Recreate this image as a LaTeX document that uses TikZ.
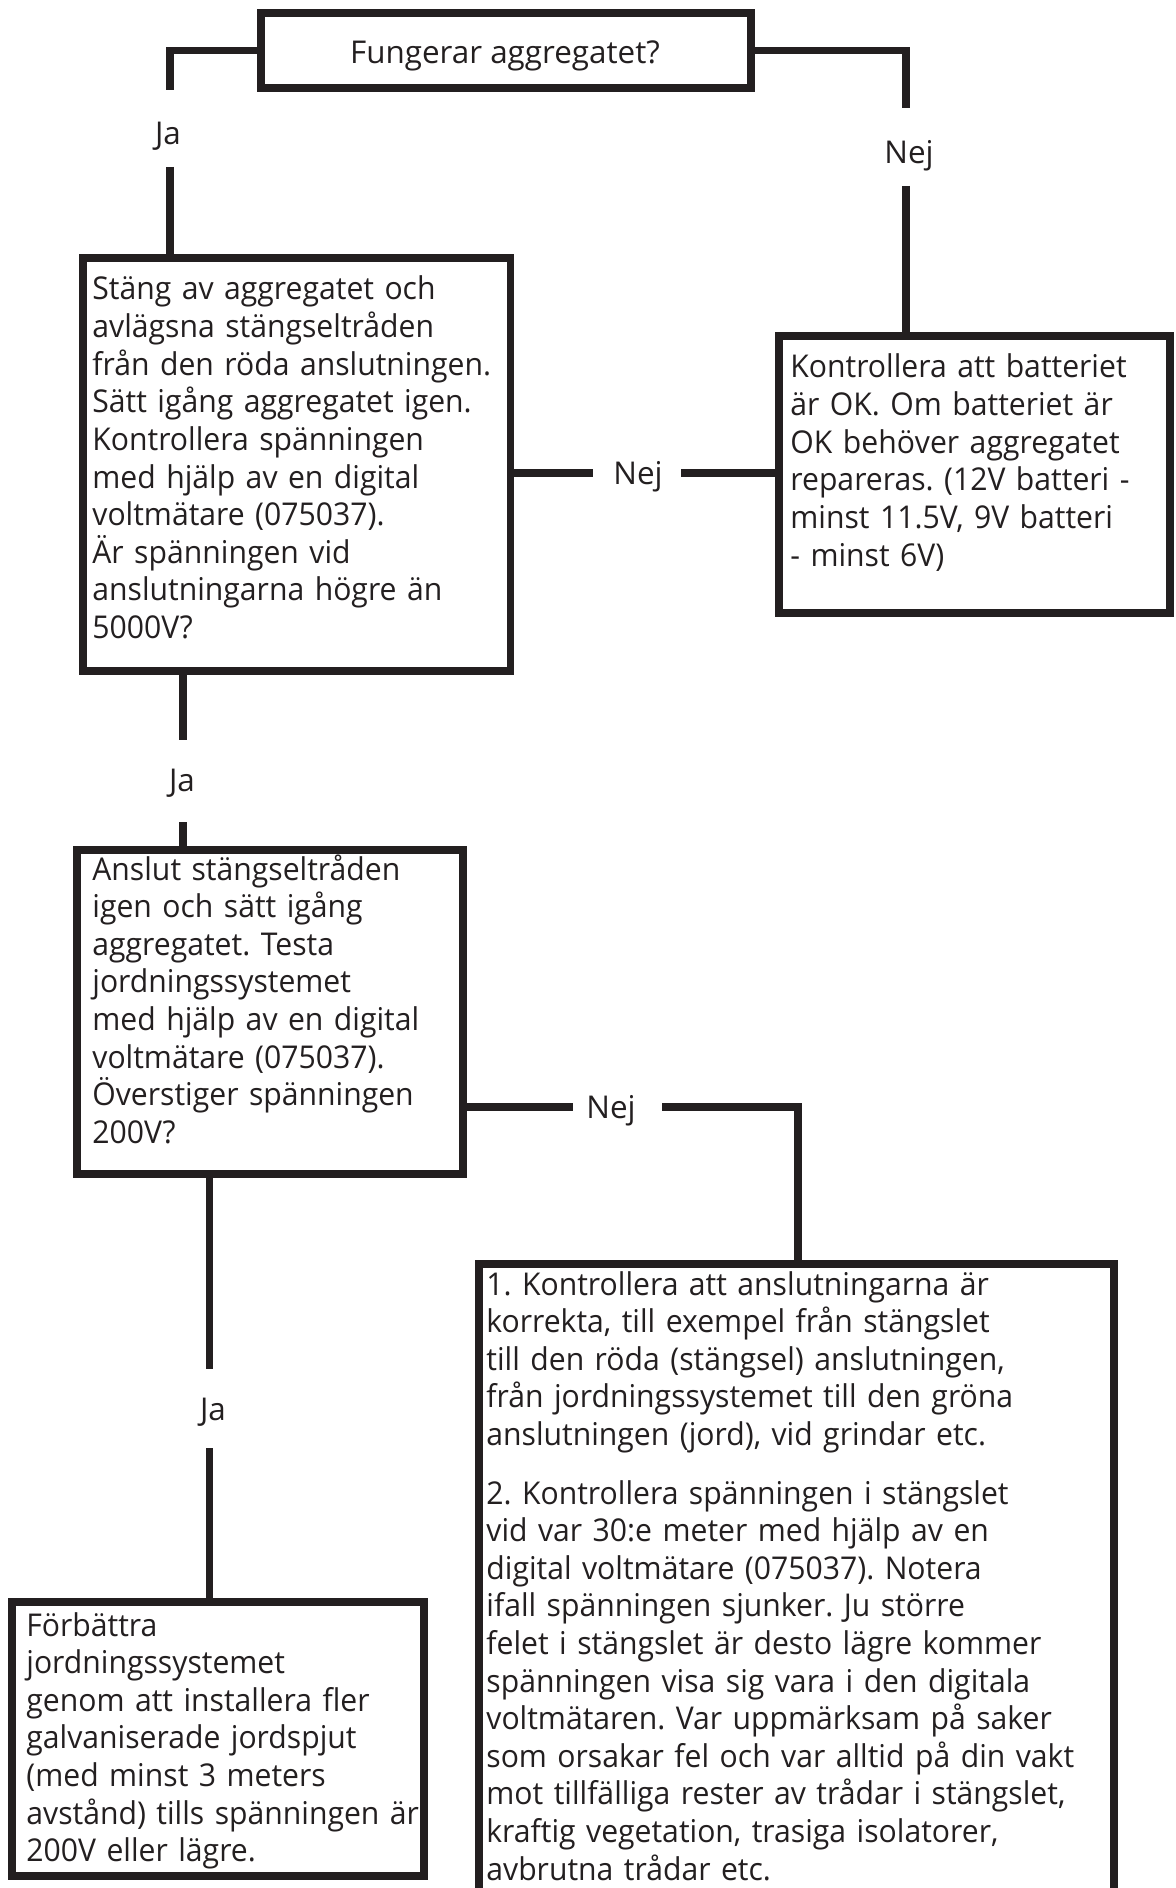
\documentclass[tikz,border=0pt]{standalone}
\usepackage{fontspec}
\setmainfont{Open Sans}
\newfontfamily\boxfont[FakeStretch=0.96]{Open Sans}
\definecolor{ink}{RGB}{35,31,32}
\tikzset{
  box/.style={draw=ink, line width=3.8pt, inner sep=0pt, fill=none},
  conn/.style={draw=ink, line width=3.8pt},
  txt/.style={text=ink, anchor=base west, align=left, text width=330pt, inner sep=0pt,
    font=\boxfont\fontsize{15.7}{18.8}\selectfont\frenchspacing},
  lbl/.style={text=ink, anchor=base, inner sep=0pt, font=\fontsize{15.7}{18.8}\selectfont}
}
\begin{document}
\begin{tikzpicture}[x=0.5pt,y=-0.5pt]
\useasboundingbox (0,0) rectangle (1176,1888);
\clip (0,0) rectangle (1176,1888);
\fill[white] (0,0) rectangle (1176,1888);

% boxes
\node[box, minimum width=245pt, minimum height=37.5pt] (q1) at (506,50.5) {};
\node[box, minimum width=213.75pt, minimum height=206.5pt] (box2) at (296.75,464.5) {};
\node[box, minimum width=195.5pt, minimum height=138.5pt] (box3) at (974.5,474.5) {};
\node[box, minimum width=193pt, minimum height=162pt] (box4) at (270,1012) {};
\node[box, minimum width=317.5pt, minimum height=328pt] (box5) at (796.5,1592) {};
\node[box, minimum width=206pt, minimum height=137pt] (box6) at (218,1739) {};

% texts
\node[lbl] (q1t) at (505,64) {Fungerar aggregatet?};

\node[txt] (t2) at (92,300) {Stäng av aggregatet och\\
avlägsna stängseltråden\\
från den röda anslutningen.\\
Sätt igång aggregatet igen.\\
Kontrollera spänningen\\
med hjälp av en digital\\
voltmätare (075037).\\
Är spänningen vid\\
anslutningarna högre än\\
5000V?};

\node[txt] (t3) at (790,378) {Kontrollera att batteriet\\
är OK. Om batteriet är\\
OK behöver aggregatet\\
repareras. (12V batteri -\\
minst 11.5V, 9V batteri\\
- minst 6V)};

\node[txt] (t4) at (92,880) {Anslut stängseltråden\\
igen och sätt igång\\
aggregatet. Testa\\
jordningssystemet\\
med hjälp av en digital\\
voltmätare (075037).\\
Överstiger spänningen\\
200V?};

\node[txt] (t5) at (486,1295) {1. Kontrollera att anslutningarna är\\
korrekta, till exempel från stängslet\\
till den röda (stängsel) anslutningen,\\
från jordningssystemet till den gröna\\
anslutningen (jord), vid grindar etc.\\[10.5pt]
2. Kontrollera spänningen i stängslet\\
vid var 30:e meter med hjälp av en\\
digital voltmätare (075037). Notera\\
ifall spänningen sjunker. Ju större\\
felet i stängslet är desto lägre kommer\\
spänningen visa sig vara i den digitala\\
voltmätaren. Var uppmärksam på saker\\
som orsakar fel och var alltid på din vakt\\
mot tillfälliga rester av trådar i stängslet,\\
kraftig vegetation, trasiga isolatorer,\\
avbrutna trådar etc.};

\node[txt] (t6) at (26,1636) {Förbättra\\
jordningssystemet\\
genom att installera fler\\
galvaniserade jordspjut\\
(med minst 3 meters\\
avstånd) tills spänningen är\\
200V eller lägre.};

% connector: top -> box2 (Ja)
\coordinate (a1) at (170,90);
\coordinate (a2) at (170,167);
\draw[conn] (q1.west) -| (a1);
\node[lbl] (ja1) at (168,144.5) {Ja};
\draw[conn] (a2) -- (a2 |- box2.north);

% connector: top -> box3 (Nej)
\coordinate (b1) at (906,108);
\coordinate (b2) at (906,186);
\draw[conn] (q1.east) -| (b1);
\node[lbl] (nej1) at (909,163.5) {Nej};
\draw[conn] (b2) -- (b2 |- box3.north);

% connector: box2 -> box3 (Nej)
\coordinate (c1) at (593,473);
\coordinate (c2) at (681,473);
\draw[conn] (c1 -| box2.east) -- (c1);
\node[lbl] (nej2) at (638,484.5) {Nej};
\draw[conn] (c2) -- (c2 -| box3.west);

% connector: box2 -> box4 (Ja)
\coordinate (d1) at (183,740);
\coordinate (d2) at (183,822);
\draw[conn] (d1 |- box2.south) -- (d1);
\node[lbl] (ja2) at (182,791) {Ja};
\draw[conn] (d2) -- (d2 |- box4.north);

% connector: box4 -> box5 (Nej)
\coordinate (e1) at (573,1107);
\coordinate (e2) at (662,1107);
\coordinate (e3) at (798,1107);
\draw[conn] (e1 -| box4.east) -- (e1);
\node[lbl] (nej3) at (611,1118.5) {Nej};
\draw[conn] (e2) -- (e3) -- (e3 |- box5.north);

% connector: box4 -> box6 (Ja)
\coordinate (f1) at (209.5,1369);
\coordinate (f2) at (209.5,1448);
\draw[conn] (f1 |- box4.south) -- (f1);
\node[lbl] (ja3) at (213,1420) {Ja};
\draw[conn] (f2) -- (f2 |- box6.north);
\end{tikzpicture}
\end{document}
